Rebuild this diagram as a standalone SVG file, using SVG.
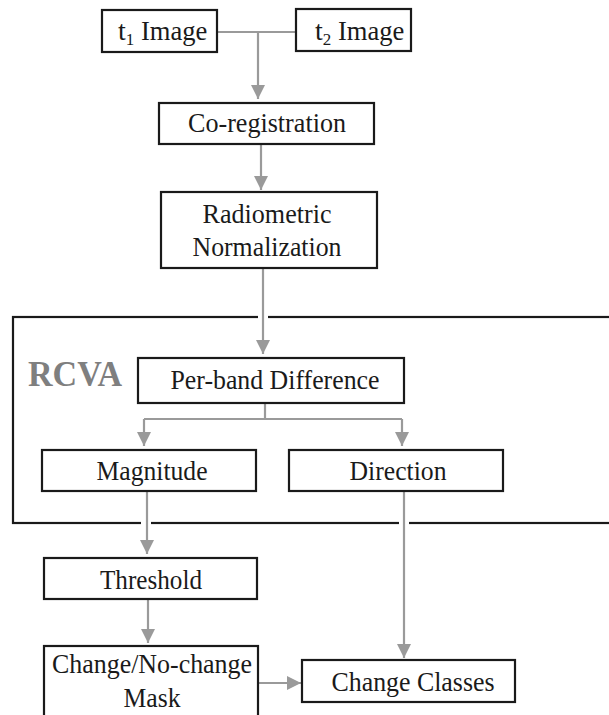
<svg xmlns="http://www.w3.org/2000/svg" width="609" height="715" viewBox="0 0 609 715">
<style>
text{font-family:"Liberation Serif","DejaVu Serif",serif}
.box{fill:#fff;stroke:#1a1a1a;stroke-width:2.2}
.t{font-size:28px;fill:#1a1a1a;text-anchor:middle}
.c{fill:none;stroke:#9a9a9a;stroke-width:2.2}
.gap{fill:#fff;stroke:none}
</style>
<defs>
<marker id="ah" viewBox="0 0 10 10" refX="10" refY="5" markerWidth="14" markerHeight="14" markerUnits="userSpaceOnUse" orient="auto">
<path d="M0,0 L10,5 L0,10 z" fill="#9a9a9a"/>
</marker>
</defs>
<rect width="609" height="715" fill="#fff"/>
<g id="rcva">
<rect x="13" y="317" width="610" height="206" fill="none" stroke="#1a1a1a" stroke-width="2.2"/>
<text x="28" y="386" font-weight="bold" font-size="35" fill="#7f7f7f" textLength="94" lengthAdjust="spacingAndGlyphs">RCVA</text>
</g>
<g id="connectors">
<rect class="gap" x="258" y="313" width="10" height="8"/>
<rect class="gap" x="141" y="519" width="10" height="8"/>
<rect class="gap" x="399" y="519" width="10" height="8"/>
<path class="c" d="M217,32 H296"/>
<path class="c" d="M258,32 V99" marker-end="url(#ah)"/>
<path class="c" d="M261,144 V190" marker-end="url(#ah)"/>
<path class="c" d="M263,268 V354" marker-end="url(#ah)"/>
<path class="c" d="M265,403 V419"/>
<path class="c" d="M144,419 H402"/>
<path class="c" d="M144,419 V446" marker-end="url(#ah)"/>
<path class="c" d="M402,419 V446" marker-end="url(#ah)"/>
<path class="c" d="M147,491 V554" marker-end="url(#ah)"/>
<path class="c" d="M148,599 V643" marker-end="url(#ah)"/>
<path class="c" d="M404,491 V658" marker-end="url(#ah)"/>
<path class="c" d="M258,683 H301" marker-end="url(#ah)"/>
</g>
<g id="t1">
<rect class="box" x="102" y="10" width="115" height="42"/>
<text x="118" y="40" font-size="28" fill="#1a1a1a">t<tspan font-size="17" dy="5">1</tspan><tspan dy="-5" textLength="73" lengthAdjust="spacingAndGlyphs"> Image</tspan></text>
</g>
<g id="t2">
<rect class="box" x="296" y="9" width="115" height="42"/>
<text x="315" y="40" font-size="28" fill="#1a1a1a">t<tspan font-size="17" dy="5">2</tspan><tspan dy="-5" textLength="73" lengthAdjust="spacingAndGlyphs"> Image</tspan></text>
</g>
<g id="coreg">
<rect class="box" x="159" y="103" width="215" height="41"/>
<text class="t" x="267" y="132" textLength="158" lengthAdjust="spacingAndGlyphs">Co-registration</text>
</g>
<g id="radnorm">
<rect class="box" x="161" y="192" width="216" height="76"/>
<text class="t" x="267" y="223" textLength="129" lengthAdjust="spacingAndGlyphs">Radiometric</text>
<text class="t" x="267" y="256" textLength="149" lengthAdjust="spacingAndGlyphs">Normalization</text>
</g>
<g id="perband">
<rect class="box" x="138" y="358" width="266" height="45"/>
<text class="t" x="275" y="389" textLength="209" lengthAdjust="spacingAndGlyphs">Per-band Difference</text>
</g>
<g id="magnitude">
<rect class="box" x="42" y="450" width="214" height="41"/>
<text class="t" x="152" y="480" textLength="111" lengthAdjust="spacingAndGlyphs">Magnitude</text>
</g>
<g id="direction">
<rect class="box" x="289" y="450" width="214" height="41"/>
<text class="t" x="398" y="480" textLength="97" lengthAdjust="spacingAndGlyphs">Direction</text>
</g>
<g id="threshold">
<rect class="box" x="44" y="558" width="213" height="41"/>
<text class="t" x="151" y="589" textLength="102" lengthAdjust="spacingAndGlyphs">Threshold</text>
</g>
<g id="mask">
<rect class="box" x="44" y="646" width="214" height="80"/>
<text class="t" x="152" y="673" textLength="200" lengthAdjust="spacingAndGlyphs">Change/No-change</text>
<text class="t" x="152" y="707" textLength="57" lengthAdjust="spacingAndGlyphs">Mask</text>
</g>
<g id="classes">
<rect class="box" x="302" y="660" width="213" height="42"/>
<text class="t" x="413" y="691" textLength="163" lengthAdjust="spacingAndGlyphs">Change Classes</text>
</g>
</svg>
